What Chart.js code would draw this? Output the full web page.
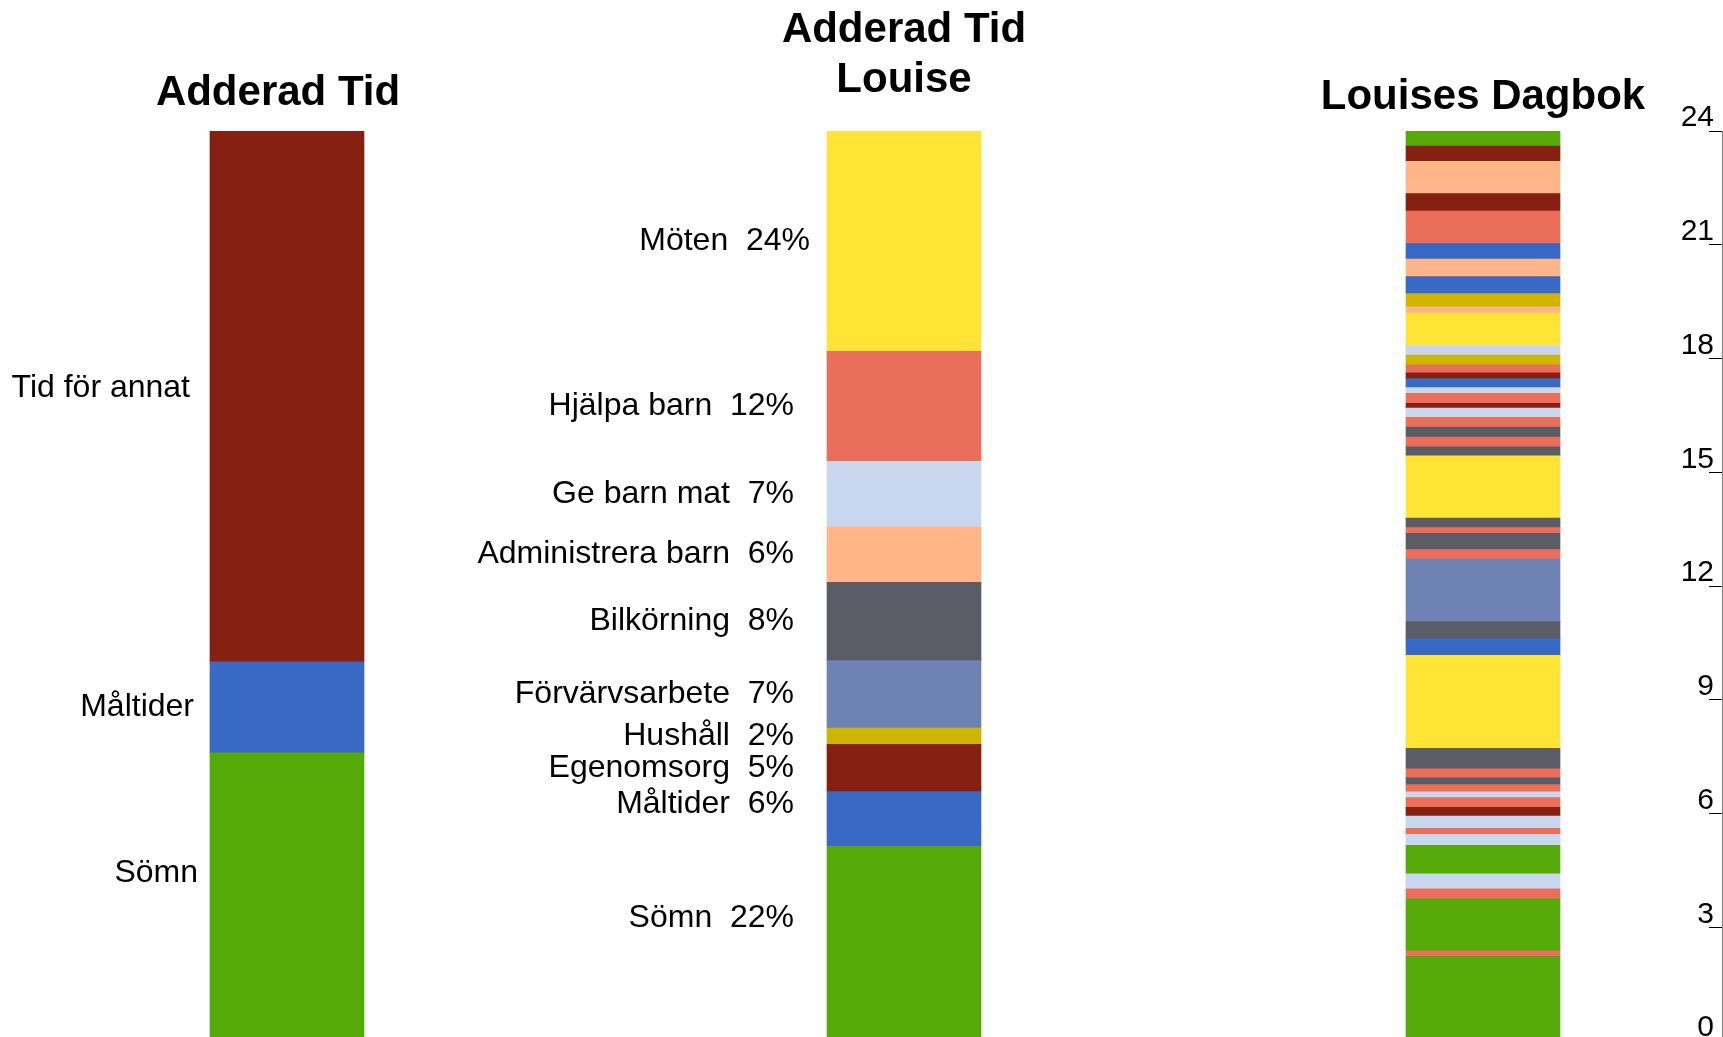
<!DOCTYPE html>
<html>
<head>
<meta charset="utf-8">
<script src="https://cdn.jsdelivr.net/npm/chart.js@4.4.1/dist/chart.umd.min.js"></script>
<style>
  html, body { margin: 0; padding: 0; background: #ffffff; overflow: hidden; width: 1723px; height: 1037px; }
  canvas { position: absolute; top: 0; }
</style>
</head>
<body>
<canvas id="cTotal" width="556" height="1061" style="left:0px"></canvas>
<canvas id="cLouise" width="1008" height="1061" style="left:400px"></canvas>
<canvas id="cDagbok" width="366" height="1061" style="left:1300px"></canvas>
<canvas id="cAxis" width="124" height="1061" style="left:1600px"></canvas>
<script>
// ---------------- DATA ----------------
const titleTotal = 'Adderad Tid';
const titleLouise = ['Adderad Tid', 'Louise'];
const titleDagbok = 'Louises Dagbok';

// Column 1: hours per day (bottom to top)
const totalCategories = ['Sömn', 'Måltider', 'Tid för annat'];
const totalHours = [7.6, 2.4, 14.0];

// Column 2: share of the day in percent (bottom to top)
const louiseCategories = ['Sömn', 'Måltider', 'Egenomsorg', 'Hushåll', 'Förvärvsarbete',
  'Bilkörning', 'Administrera barn', 'Ge barn mat', 'Hjälpa barn', 'Möten'];
const louiseShare = [21.4, 6.0, 5.2, 1.8, 7.4, 8.6, 6.1, 7.2, 12.1, 24.2];
const louisePercentLabels = [22, 6, 5, 2, 7, 8, 6, 7, 12, 24];

// Column 3: diary entries, hours (bottom = 00:00, top = 24:00)
const dagbokActivities = [
  'Sömn', 'Hjälpa barn', 'Sömn', 'Hjälpa barn', 'Ge barn mat', 'Sömn', 'Ge barn mat', 'Hjälpa barn',
  'Ge barn mat', 'Egenomsorg', 'Hjälpa barn', 'Ge barn mat', 'Hjälpa barn', 'Bilkörning', 'Hjälpa barn',
  'Bilkörning', 'Möten', 'Måltider', 'Bilkörning', 'Förvärvsarbete', 'Hjälpa barn', 'Bilkörning',
  'Hjälpa barn', 'Bilkörning', 'Möten', 'Bilkörning', 'Hjälpa barn', 'Bilkörning', 'Hjälpa barn',
  'Ge barn mat', 'Egenomsorg', 'Hjälpa barn', 'Ge barn mat', 'Måltider', 'Egenomsorg', 'Hjälpa barn',
  'Hushåll', 'Ge barn mat', 'Möten', 'Administrera barn', 'Hushåll', 'Måltider', 'Administrera barn',
  'Måltider', 'Hjälpa barn', 'Egenomsorg', 'Administrera barn', 'Egenomsorg', 'Sömn'
];
const dagbokHours = [
  2.23, 0.15, 1.37, 0.26, 0.40, 0.75, 0.29, 0.16,
  0.32, 0.23, 0.26, 0.15, 0.19, 0.18, 0.24,
  0.54, 2.45, 0.44, 0.45, 1.65, 0.25, 0.43,
  0.15, 0.25, 1.64, 0.24, 0.26, 0.26, 0.26,
  0.24, 0.13, 0.26, 0.15, 0.24, 0.15, 0.21,
  0.26, 0.25, 0.86, 0.16, 0.35, 0.45, 0.46,
  0.41, 0.86, 0.46, 0.85, 0.40, 0.40
];
const hourTicks = [0, 3, 6, 9, 12, 15, 18, 21, 24];

// ---------------- STYLE ----------------
const FONT = "'Liberation Sans', Arial, Helvetica, sans-serif";
Chart.defaults.font.family = FONT;
const BAR_WIDTH = 154;
const activityColors = {
  'Sömn': '#55aa0a',
  'Måltider': '#3869c5',
  'Egenomsorg': '#862011',
  'Tid för annat': '#862011',
  'Hushåll': '#cfb400',
  'Förvärvsarbete': '#6e83b4',
  'Bilkörning': '#5a5d66',
  'Administrera barn': '#ffb587',
  'Ge barn mat': '#c8d6ee',
  'Hjälpa barn': '#eb6e5b',
  'Möten': '#ffe436'
};

function makeLabelPlugin(textFor, gap, nudges) {
  return {
    id: 'segmentLabels',
    afterDatasetsDraw(chart) {
      const ctx = chart.ctx;
      ctx.save();
      ctx.font = '32px ' + FONT;
      ctx.fillStyle = '#000000';
      ctx.textAlign = 'right';
      ctx.textBaseline = 'middle';
      chart.data.datasets.forEach((ds, i) => {
        const el = chart.getDatasetMeta(i).data[0];
        const n = nudges[ds.label] || [0, 0];
        const y = (el.y + el.base) / 2 + n[1];
        const x = el.x - el.width / 2 - gap + n[0];
        ctx.fillText(textFor(i, ds.label), x, y);
      });
      ctx.restore();
    }
  };
}

function makeColumn(id, title, names, values, max, tl, plugins) {
  const leftSpace = tl.leftSpace || 0;
  return new Chart(document.getElementById(id), {
    type: 'bar',
    data: {
      labels: [Array.isArray(title) ? title.join(' ') : title],
      datasets: names.map((n, i) => ({
        label: n,
        data: [values[i]],
        backgroundColor: activityColors[n],
        borderWidth: 0,
        barThickness: BAR_WIDTH
      }))
    },
    options: {
      responsive: false,
      animation: false,
      layout: { padding: { top: tl.top, bottom: 20, left: 0, right: 0 } },
      scales: {
        x: { display: false, stacked: true },
        y: {
          display: leftSpace > 0,
          stacked: true, min: 0, max: max,
          position: 'left',
          grid: { display: false },
          border: { display: false },
          ticks: { display: false },
          afterFit: (s) => { s.width = leftSpace; }
        }
      },
      plugins: {
        legend: { display: false },
        tooltip: { enabled: false },
        title: {
          display: true,
          text: title,
          color: '#000000',
          font: { family: FONT, size: 42, weight: 'bold', lineHeight: tl.lineHeight },
          padding: { top: 0, bottom: tl.bottom }
        }
      }
    },
    plugins: plugins
  });
}

// Column 1
makeColumn('cTotal', titleTotal, totalCategories, totalHours, 24,
  { top: 68.2, lineHeight: 1.2, bottom: 12.4, leftSpace: 18 },
  [makeLabelPlugin((i, name) => name, 16, { 'Tid för annat': [-4, -8], 'Sömn': [4, -24] })]);

// Column 2
makeColumn('cLouise', titleLouise, louiseCategories, louiseShare, 100,
  { top: 5.4, lineHeight: 50 / 42, bottom: 25.6 },
  [makeLabelPlugin((i, name) => name + '  ' + louisePercentLabels[i] + '%', 33,
    { 'Möten': [16, 0], 'Måltider': [0, -15], 'Sömn': [0, -25] })]);

// Column 3
makeColumn('cDagbok', titleDagbok, dagbokActivities, dagbokHours, 24,
  { top: 71.9, lineHeight: 1.2, bottom: 8.7 }, []);

// Hour axis for column 3
new Chart(document.getElementById('cAxis'), {
  type: 'bar',
  data: { labels: [], datasets: [] },
  options: {
    responsive: false,
    animation: false,
    layout: { padding: { top: 131, bottom: 20, left: 0, right: 0 } },
    plugins: { legend: { display: false }, tooltip: { enabled: false } },
    scales: {
      x: { display: false },
      y: {
        type: 'linear',
        position: 'left',
        min: 0,
        max: 24,
        afterFit: (s) => { s.width = 122; },
        afterBuildTicks: (s) => { s.ticks = hourTicks.map(v => ({ value: v })); },
        grid: { drawOnChartArea: false, drawTicks: true, tickLength: 13, color: '#000000', lineWidth: 1 },
        border: { display: true, color: '#808080', width: 1 },
        ticks: { color: '#000000', font: { family: FONT, size: 30 }, padding: -5, labelOffset: -13, autoSkip: false }
      }
    }
  }
});
</script>
</body>
</html>
